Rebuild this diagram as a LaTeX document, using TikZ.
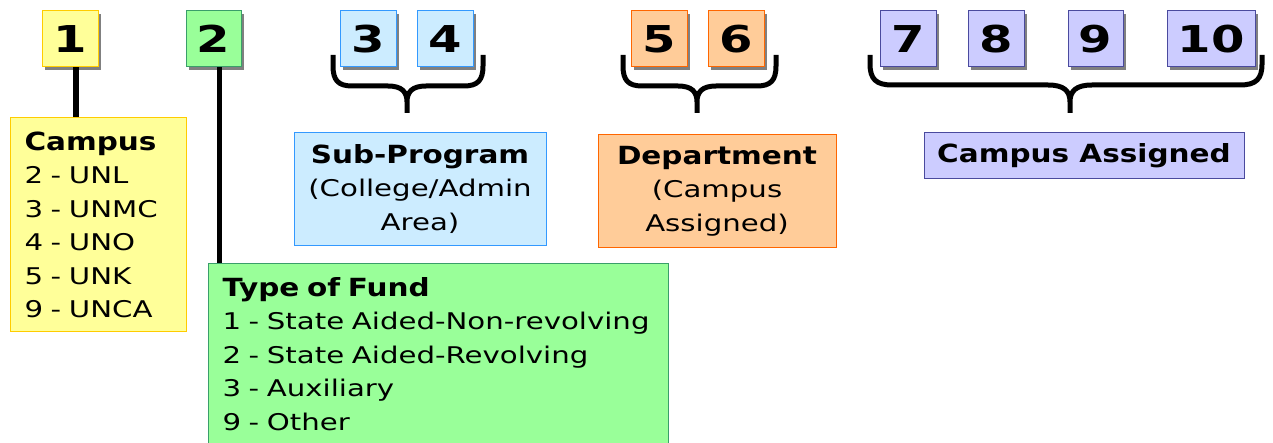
\documentclass[tikz,border=0pt]{standalone}
\usepackage{fontspec}
\setmainfont{DejaVu Sans}[FakeStretch=1.27, BoldFeatures={FakeStretch=1.18}]
\newfontfamily\digitfont{DejaVu Sans}[FakeStretch=1.3]
\usepackage{tikz}
\usetikzlibrary{shadows}

\definecolor{yfill}{HTML}{FFFF99}
\definecolor{yline}{HTML}{FFCC00}
\definecolor{gfill}{HTML}{99FF99}
\definecolor{gline}{HTML}{3A9E6A}
\definecolor{bfill}{HTML}{CCECFF}
\definecolor{bline}{HTML}{3399FF}
\definecolor{ofill}{HTML}{FFCC99}
\definecolor{oline}{HTML}{FF6600}
\definecolor{pfill}{HTML}{CCCCFF}
\definecolor{pline}{HTML}{4A4A9E}
\definecolor{shade}{HTML}{808080}

\begin{document}
\begin{tikzpicture}[x=1pt,y=-1pt,
	digit/.style={draw, line width=1pt, inner sep=0pt, minimum height=56pt,
		general shadow={fill=shade, shadow xshift=3pt, shadow yshift=-3pt},
		font=\digitfont\fontsize{37}{37}\selectfont\bfseries},
	listbox/.style={draw, line width=1pt, align=left, inner xsep=14pt, inner ysep=14pt,
		font=\fontsize{23}{33.5}\selectfont},
	labelbox/.style={draw, line width=1pt, align=center, inner sep=4pt,
		font=\fontsize{23}{33.5}\selectfont},
	stem/.style={line width=5.5pt},
	curly/.style={line width=5pt, line join=round}]
		\useasboundingbox (0,0) rectangle (1273,443);
		\clip (0,0) rectangle (1273,443);
		
		% digit boxes
		\node[digit, fill=yfill, draw=yline, minimum width=56pt] (n1) at (70,39) {1};
		\node[digit, fill=gfill, draw=gline, minimum width=55pt] (n2) at (213.5,39) {2};
		\node[digit, fill=bfill, draw=bline, minimum width=56pt] (n3) at (368,39) {3};
		\node[digit, fill=bfill, draw=bline, minimum width=56pt] (n4) at (445,39) {4};
		\node[digit, fill=ofill, draw=oline, minimum width=56pt] (n5) at (659,39) {5};
		\node[digit, fill=ofill, draw=oline, minimum width=56pt] (n6) at (736,39) {6};
		\node[digit, fill=pfill, draw=pline, minimum width=56pt] (n7) at (908,39) {7};
		\node[digit, fill=pfill, draw=pline, minimum width=56pt] (n8) at (996,39) {8};
		\node[digit, fill=pfill, draw=pline, minimum width=55pt] (n9) at (1095.5,39) {9};
		\node[digit, fill=pfill, draw=pline, minimum width=88pt] (n10) at (1211,39) {10};
		
		% description boxes
		\node[listbox, fill=yfill, draw=yline, anchor=north west, text width=148pt] (campus) at (10,117)
			{{\fontsize{25}{33.5}\selectfont\bfseries Campus}\\2 - UNL\\3 - UNMC\\4 - UNO\\5 - UNK\\9 - UNCA};
		\node[listbox, fill=gfill, draw=gline, anchor=north west, text width=432pt] (fund) at (208,263)
			{{\fontsize{25}{33.5}\selectfont\bfseries Type of Fund}\\1 - State Aided-Non-revolving\\2 - State Aided-Revolving\\3 - Auxiliary\\9 - Other\rule[-30pt]{0pt}{0pt}};
		\node[labelbox, fill=bfill, draw=bline, minimum width=252pt, minimum height=113pt] (subprog) at (420,189)
			{{\fontsize{25}{33.5}\selectfont\bfseries Sub-Program}\\(College/Admin\\Area)};
		\node[labelbox, fill=ofill, draw=oline, minimum width=238pt, minimum height=113pt] (dept) at (717,191)
			{{\fontsize{25}{33.5}\selectfont\bfseries Department}\\(Campus\\Assigned)};
		\node[labelbox, fill=pfill, draw=pline, minimum width=320pt, minimum height=46pt,
			font=\fontsize{25}{30}\selectfont\bfseries] (assigned) at (1084,156) {Campus Assigned};
		
		\draw[stem] ([xshift=6pt]n1.south) -- ([xshift=6pt]n1.south |- campus.north);
		\draw[stem] ([xshift=6pt]n2.south) -- ([xshift=6pt]n2.south |- fund.north);
		
		% braces
		\draw[curly] (333,55) -- (333,66) .. controls (333,80) and (338,86) .. (352,86) -- (388,86)
			.. controls (402,86) and (407,92) .. (407,102) -- (407,113) (407,102) .. controls (407,92) and (412,86) .. (426,86)
			-- (464,86) .. controls (478,86) and (483,80) .. (483,66) -- (483,55);
		\draw[curly] (623,55) -- (623,66) .. controls (623,80) and (628,86) .. (642,86) -- (678,86)
			.. controls (692,86) and (697,92) .. (697,102) -- (697,113) (697,102) .. controls (697,92) and (702,86) .. (716,86)
			-- (757,86) .. controls (771,86) and (776,80) .. (776,66) -- (776,55);
		\draw[curly] (870,55) -- (870,64) .. controls (870,79) and (876,85) .. (892,85) -- (1048,85)
			.. controls (1064,85) and (1070,91) .. (1070,102) -- (1070,113) (1070,102) .. controls (1070,91) and (1076,85) .. (1092,85)
			-- (1240,85) .. controls (1256,85) and (1262,79) .. (1262,64) -- (1262,55);
\end{tikzpicture}
\end{document}
